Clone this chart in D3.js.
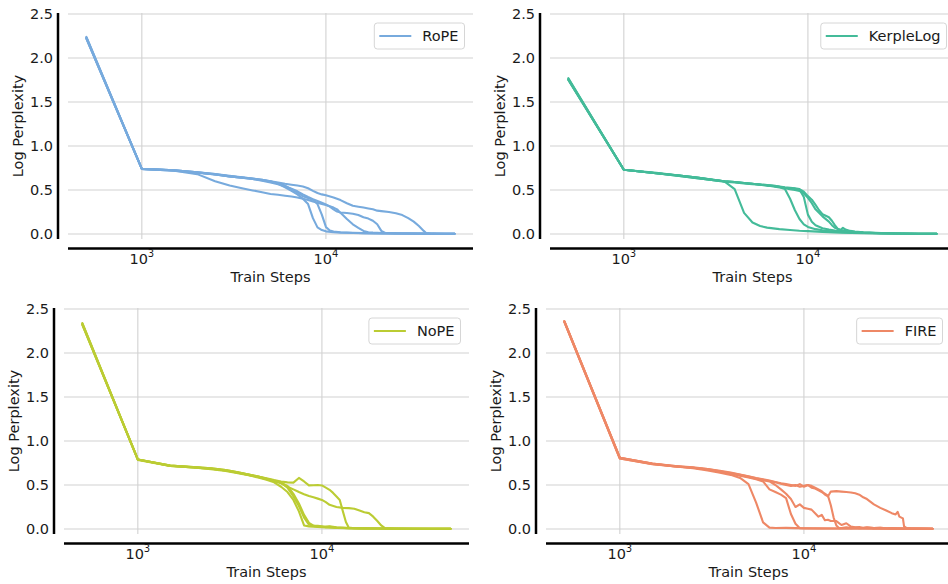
<!DOCTYPE html>
<html>
<head>
<meta charset="utf-8">
<script src="https://cdn.jsdelivr.net/npm/d3@7"></script>
<style>
  body { margin: 0; background: #fff; }
  svg { display: block; font-family: "DejaVu Sans", sans-serif; }
</style>
</head>
<body>
<svg id="chart" width="948" height="584"></svg>
<script>
// Positional-encoding methods, one panel each, and their line colours
const methods = ["RoPE", "KerpleLog", "NoPE", "FIRE"];
const colors = ["#77AADD", "#44BB99", "#BBCC33", "#EE8866"];
const xTickValues = [1000, 10000];
const yTickValues = [0, 0.5, 1.0, 1.5, 2.0, 2.5];

// Each run: [train step, log perplexity]
const ropeRuns = [
  [[500,2.23],[1000,0.74],[1500,0.725],[2000,0.70],[2500,0.675],[3000,0.655],[3500,0.64],[4000,0.63],[4500,0.615],[5000,0.60],[5500,0.585],[6000,0.57],[6500,0.56],[7000,0.55],[7500,0.54],[8000,0.52],[8500,0.49],[9000,0.465],[9500,0.45],[10000,0.44],[11000,0.415],[12000,0.385],[13000,0.35],[14000,0.32],[15000,0.31],[16000,0.30],[17000,0.29],[18000,0.28],[19000,0.265],[20000,0.26],[22000,0.25],[24000,0.235],[26000,0.215],[28000,0.18],[30000,0.14],[32000,0.09],[34000,0.035],[35000,0.012],[37000,0.006],[40000,0.004],[45000,0.003],[50000,0.002]],
  [[500,2.24],[1000,0.74],[1500,0.725],[2000,0.70],[2500,0.68],[3000,0.66],[3500,0.645],[4000,0.63],[4500,0.615],[5000,0.60],[5500,0.57],[6000,0.53],[6500,0.49],[7000,0.45],[7500,0.40],[8000,0.34],[8500,0.18],[9000,0.075],[9500,0.045],[10000,0.03],[11000,0.02],[12000,0.015],[14000,0.011],[16000,0.009],[20000,0.007],[25000,0.005],[30000,0.004],[40000,0.003],[50000,0.002]],
  [[500,2.22],[1000,0.74],[1500,0.72],[2000,0.695],[2500,0.675],[3000,0.655],[3500,0.64],[4000,0.625],[4500,0.61],[5000,0.595],[5500,0.575],[6000,0.55],[6500,0.51],[7000,0.47],[7500,0.43],[8000,0.41],[8500,0.39],[9000,0.34],[9500,0.22],[10000,0.08],[10500,0.04],[11000,0.028],[12000,0.02],[14000,0.014],[16000,0.01],[20000,0.007],[25000,0.005],[30000,0.004],[40000,0.003],[50000,0.002]],
  [[500,2.23],[1000,0.74],[1500,0.72],[2000,0.68],[2500,0.60],[3000,0.55],[3500,0.52],[4000,0.495],[4500,0.475],[5000,0.455],[5500,0.445],[6000,0.435],[6500,0.425],[7000,0.415],[7500,0.40],[8000,0.385],[8500,0.37],[9000,0.355],[9500,0.34],[10000,0.33],[11000,0.30],[11500,0.28],[12000,0.24],[13000,0.17],[14000,0.11],[15000,0.07],[16000,0.035],[17000,0.02],[18000,0.015],[20000,0.011],[25000,0.007],[30000,0.005],[40000,0.003],[50000,0.002]],
  [[500,2.22],[1000,0.74],[1500,0.725],[2000,0.70],[2500,0.68],[3000,0.655],[3500,0.64],[4000,0.625],[4500,0.605],[5000,0.585],[5500,0.565],[6000,0.54],[6500,0.515],[7000,0.485],[7500,0.45],[8000,0.42],[8500,0.395],[9000,0.375],[9500,0.355],[10000,0.335],[10500,0.31],[11000,0.28],[11500,0.255],[12000,0.245],[13000,0.238],[14000,0.23],[15000,0.215],[16000,0.19],[17000,0.175],[18000,0.15],[19000,0.11],[20000,0.035],[21000,0.012],[24000,0.007],[30000,0.005],[40000,0.003],[50000,0.002]]
];

const kerpleRuns = [
  [[500,1.77],[1000,0.73],[1500,0.69],[2000,0.66],[2500,0.635],[3000,0.615],[3500,0.60],[4000,0.51],[4500,0.24],[5000,0.13],[5500,0.09],[6000,0.072],[7000,0.055],[8000,0.045],[9000,0.037],[10000,0.032],[12000,0.024],[15000,0.016],[20000,0.01],[25000,0.007],[30000,0.005],[40000,0.003],[50000,0.002]],
  [[500,1.75],[1000,0.73],[1500,0.69],[2000,0.665],[2500,0.64],[3000,0.62],[3500,0.60],[4000,0.59],[4500,0.58],[5000,0.57],[5500,0.56],[6000,0.55],[6500,0.54],[7000,0.53],[7500,0.51],[8000,0.40],[8500,0.27],[9000,0.17],[9500,0.11],[10000,0.08],[11000,0.055],[12000,0.042],[13000,0.034],[14000,0.028],[15000,0.024],[17000,0.018],[20000,0.012],[25000,0.008],[30000,0.005],[40000,0.003],[50000,0.002]],
  [[500,1.76],[1000,0.73],[1500,0.69],[2000,0.66],[2500,0.635],[3000,0.615],[3500,0.595],[4000,0.585],[4500,0.575],[5000,0.565],[5500,0.56],[6000,0.55],[6500,0.545],[7000,0.535],[7500,0.525],[8000,0.52],[8500,0.515],[9000,0.505],[9500,0.42],[10000,0.22],[10500,0.14],[11000,0.10],[12000,0.066],[13000,0.05],[14000,0.04],[15500,0.034],[17000,0.025],[20000,0.015],[25000,0.009],[30000,0.006],[40000,0.003],[50000,0.002]],
  [[500,1.76],[1000,0.73],[1500,0.695],[2000,0.665],[2500,0.64],[3000,0.615],[3500,0.60],[4000,0.59],[4500,0.58],[5000,0.57],[5500,0.56],[6000,0.555],[6500,0.545],[7000,0.535],[7500,0.52],[8000,0.51],[8500,0.50],[9000,0.49],[9500,0.46],[10000,0.41],[10500,0.35],[11000,0.28],[12000,0.20],[13000,0.14],[13500,0.10],[14000,0.07],[15000,0.045],[16000,0.035],[18000,0.022],[20000,0.015],[25000,0.009],[30000,0.006],[40000,0.003],[50000,0.002]],
  [[500,1.75],[1000,0.73],[1500,0.69],[2000,0.665],[2500,0.64],[3000,0.62],[3500,0.60],[4000,0.59],[4500,0.58],[5000,0.57],[5500,0.565],[6000,0.555],[6500,0.55],[7000,0.54],[7500,0.53],[8000,0.525],[8500,0.52],[9000,0.51],[9500,0.48],[10000,0.43],[10500,0.39],[11000,0.33],[11500,0.27],[12000,0.225],[13000,0.19],[13500,0.15],[14000,0.10],[14500,0.06],[15000,0.045],[15500,0.07],[16000,0.05],[17000,0.035],[18000,0.028],[20000,0.02],[25000,0.01],[30000,0.006],[40000,0.003],[50000,0.002]]
];

const nopeRuns = [
  [[500,2.34],[1000,0.79],[1500,0.715],[2000,0.70],[2500,0.685],[3000,0.665],[3500,0.64],[4000,0.615],[4500,0.595],[5000,0.575],[5500,0.555],[6000,0.54],[6500,0.53],[7000,0.527],[7500,0.58],[8000,0.54],[8500,0.495],[9000,0.497],[9500,0.50],[10000,0.495],[10500,0.47],[11000,0.445],[11500,0.41],[12000,0.37],[12500,0.33],[13000,0.20],[13500,0.08],[14000,0.015],[15000,0.008],[17000,0.006],[20000,0.005],[30000,0.003],[50000,0.002]],
  [[500,2.32],[1000,0.79],[1500,0.72],[2000,0.705],[2500,0.69],[3000,0.67],[3500,0.645],[4000,0.62],[4500,0.595],[5000,0.57],[5500,0.545],[6000,0.52],[6500,0.48],[7000,0.45],[7500,0.42],[8000,0.395],[8500,0.375],[9000,0.36],[9500,0.345],[10000,0.33],[10500,0.305],[11000,0.275],[12000,0.25],[13000,0.24],[14000,0.237],[15000,0.23],[16000,0.21],[17000,0.19],[18000,0.18],[19000,0.14],[20000,0.09],[21000,0.04],[22000,0.01],[25000,0.005],[30000,0.004],[40000,0.003],[50000,0.002]],
  [[500,2.33],[1000,0.785],[1500,0.715],[2000,0.70],[2500,0.68],[3000,0.66],[3500,0.635],[4000,0.61],[4500,0.585],[5000,0.56],[5500,0.53],[6000,0.48],[6500,0.42],[7000,0.33],[7500,0.20],[8000,0.04],[8500,0.03],[9000,0.025],[10000,0.02],[11000,0.015],[12000,0.012],[14000,0.008],[17000,0.006],[20000,0.005],[30000,0.003],[50000,0.002]],
  [[500,2.33],[1000,0.79],[1500,0.72],[2000,0.70],[2500,0.685],[3000,0.665],[3500,0.64],[4000,0.615],[4500,0.59],[5000,0.565],[5500,0.545],[6000,0.525],[6500,0.47],[7000,0.37],[7500,0.26],[8000,0.13],[8500,0.05],[9000,0.035],[9500,0.03],[10000,0.025],[11000,0.03],[12000,0.018],[14000,0.01],[17000,0.007],[20000,0.005],[30000,0.003],[50000,0.002]],
  [[500,2.32],[1000,0.79],[1500,0.72],[2000,0.705],[2500,0.69],[3000,0.67],[3500,0.645],[4000,0.62],[4500,0.595],[5000,0.57],[5500,0.55],[6000,0.525],[6500,0.49],[7000,0.40],[7500,0.29],[8000,0.16],[8500,0.07],[9000,0.038],[9500,0.035],[10000,0.03],[10500,0.02],[11000,0.025],[12000,0.015],[14000,0.01],[17000,0.007],[20000,0.005],[30000,0.003],[50000,0.002]]
];

const fireRuns = [
  [[500,2.36],[1000,0.81],[1500,0.745],[2000,0.71],[2500,0.69],[3000,0.665],[3500,0.64],[4000,0.615],[4500,0.58],[5000,0.51],[5500,0.30],[6000,0.075],[6500,0.015],[7000,0.012],[8000,0.013],[9000,0.01],[10000,0.008],[12000,0.007],[15000,0.006],[20000,0.005],[30000,0.004],[50000,0.003]],
  [[500,2.35],[1000,0.80],[1500,0.74],[2000,0.71],[2500,0.695],[3000,0.675],[3500,0.65],[4000,0.63],[4500,0.605],[5000,0.585],[5500,0.565],[6000,0.54],[6500,0.45],[7000,0.42],[7500,0.39],[8000,0.35],[8500,0.17],[9000,0.06],[9500,0.008],[10000,0.007],[12000,0.006],[15000,0.005],[20000,0.005],[30000,0.004],[50000,0.003]],
  [[500,2.36],[1000,0.81],[1500,0.745],[2000,0.715],[2500,0.695],[3000,0.675],[3500,0.65],[4000,0.63],[4500,0.61],[5000,0.59],[5500,0.57],[6000,0.555],[6500,0.54],[7000,0.50],[7500,0.45],[8000,0.40],[8500,0.34],[9000,0.25],[9500,0.28],[10000,0.24],[10500,0.23],[11000,0.22],[11500,0.18],[12000,0.14],[12500,0.16],[13000,0.10],[13500,0.105],[14000,0.09],[15000,0.09],[16000,0.045],[17000,0.065],[18000,0.027],[19000,0.02],[20000,0.022],[21000,0.012],[22000,0.018],[24000,0.01],[26000,0.014],[28000,0.008],[30000,0.006],[40000,0.004],[50000,0.003]],
  [[500,2.35],[1000,0.80],[1500,0.735],[2000,0.71],[2500,0.695],[3000,0.68],[3500,0.655],[4000,0.635],[4500,0.615],[5000,0.595],[5500,0.575],[6000,0.56],[6500,0.545],[7000,0.53],[7500,0.515],[8000,0.50],[8500,0.49],[9000,0.50],[9500,0.48],[10000,0.49],[10500,0.50],[11000,0.47],[11500,0.46],[12000,0.44],[12500,0.42],[13000,0.40],[13500,0.38],[14000,0.27],[14500,0.13],[15000,0.04],[15500,0.01],[16000,0.012],[17000,0.02],[18000,0.01],[19000,0.015],[20000,0.01],[22000,0.016],[24000,0.01],[26000,0.013],[28000,0.008],[30000,0.01],[35000,0.006],[40000,0.004],[50000,0.003]],
  [[500,2.36],[1000,0.81],[1500,0.74],[2000,0.715],[2500,0.70],[3000,0.68],[3500,0.66],[4000,0.64],[4500,0.62],[5000,0.60],[5500,0.58],[6000,0.565],[6500,0.55],[7000,0.535],[7500,0.52],[8000,0.51],[8500,0.50],[9000,0.49],[9500,0.51],[10000,0.48],[10500,0.50],[11000,0.49],[11500,0.47],[12000,0.45],[12500,0.43],[13000,0.39],[13500,0.37],[14000,0.425],[15000,0.43],[16000,0.425],[17000,0.42],[18000,0.415],[19000,0.405],[20000,0.39],[21000,0.36],[22000,0.34],[24000,0.28],[26000,0.24],[28000,0.21],[30000,0.18],[31500,0.165],[32300,0.195],[33000,0.14],[34500,0.12],[35000,0.03],[36000,0.012],[38000,0.008],[40000,0.006],[45000,0.004],[50000,0.003]]
];

const runsByMethod = [ropeRuns, kerpleRuns, nopeRuns, fireRuns];

// Layout of the 2x2 grid of panels
const panelW = 405, panelH = 226;
const panelOrigins = [[68, 13], [550, 13], [64, 308], [546, 308]];
const xDomain = [Math.pow(10, 2.599), Math.pow(10, 4.799)];
const yDomain = [-0.057, 2.511];
const fontSize = 14.5;

const svg = d3.select("#chart");
const textColor = "#1a1a1a";

methods.forEach((name, i) => {
  const [left, top] = panelOrigins[i];
  const color = colors[i];
  const runs = runsByMethod[i];

  const x = d3.scaleLog().domain(xDomain).range([left, left + panelW]);
  const y = d3.scaleLinear().domain(yDomain).range([top + panelH, top]);

  const g = svg.append("g").attr("class", "panel");

  // grid
  g.append("g").selectAll("line").data(yTickValues).join("line")
    .attr("x1", left).attr("x2", left + panelW)
    .attr("y1", d => y(d)).attr("y2", d => y(d))
    .attr("stroke", "#d2d2d2").attr("stroke-width", 1.1);
  g.append("g").selectAll("line").data(xTickValues).join("line")
    .attr("x1", d => x(d)).attr("x2", d => x(d))
    .attr("y1", top).attr("y2", top + panelH)
    .attr("stroke", "#d2d2d2").attr("stroke-width", 1.1);

  // offset spines
  const ySpineX = left - 10;
  const xSpineY = top + panelH + 9.5;
  g.append("line")
    .attr("x1", ySpineX).attr("x2", ySpineX)
    .attr("y1", top).attr("y2", top + panelH)
    .attr("stroke", "#000").attr("stroke-width", 2.5);
  g.append("line")
    .attr("x1", left).attr("x2", left + panelW)
    .attr("y1", xSpineY).attr("y2", xSpineY)
    .attr("stroke", "#000").attr("stroke-width", 2.5);

  // y tick labels
  g.append("g").selectAll("text").data(yTickValues).join("text")
    .attr("x", ySpineX - 5).attr("y", d => y(d)).attr("dy", "0.36em")
    .attr("text-anchor", "end").attr("font-size", fontSize).attr("fill", textColor)
    .text(d => d3.format(".1f")(d));

  // x tick labels as powers of ten
  const xt = g.append("g").selectAll("text").data(xTickValues).join("text")
    .attr("x", d => x(d)).attr("y", xSpineY + 15)
    .attr("text-anchor", "middle").attr("font-size", fontSize).attr("fill", textColor);
  xt.append("tspan").text("10");
  xt.append("tspan").attr("font-size", 10).attr("dy", -6.5)
    .text(d => String(Math.round(Math.log10(d))));

  // axis titles
  g.append("text")
    .attr("x", left + panelW / 2).attr("y", xSpineY + 33)
    .attr("text-anchor", "middle").attr("font-size", fontSize).attr("fill", textColor)
    .text("Train Steps");
  g.append("text")
    .attr("transform", `translate(${ySpineX - 35},${top + panelH / 2}) rotate(-90)`)
    .attr("text-anchor", "middle").attr("font-size", fontSize).attr("fill", textColor)
    .text("Log Perplexity");

  // runs
  const line = d3.line().x(d => x(d[0])).y(d => y(d[1]));
  g.append("g").selectAll("path").data(runs).join("path")
    .attr("d", line)
    .attr("fill", "none").attr("stroke", color)
    .attr("stroke-width", 2.1).attr("stroke-linejoin", "round").attr("stroke-linecap", "round");

  // legend
  const lg = g.append("g");
  const box = lg.append("rect");
  const label = lg.append("text").attr("font-size", fontSize).attr("fill", textColor).text(name);
  const tw = label.node().getComputedTextLength();
  const bw = 48 + tw + 6, bh = 26;
  const bx = left + panelW - 8.5 - bw, by = top + 10;
  box.attr("x", bx).attr("y", by).attr("width", bw).attr("height", bh)
    .attr("rx", 3).attr("fill", "#fff").attr("fill-opacity", 0.8)
    .attr("stroke", "#d6d6d6").attr("stroke-width", 1);
  lg.append("line")
    .attr("x1", bx + 5).attr("x2", bx + 37)
    .attr("y1", by + bh / 2).attr("y2", by + bh / 2)
    .attr("stroke", color).attr("stroke-width", 2);
  label.attr("x", bx + 48).attr("y", by + bh / 2).attr("dy", "0.36em");
});
</script>
</body>
</html>
